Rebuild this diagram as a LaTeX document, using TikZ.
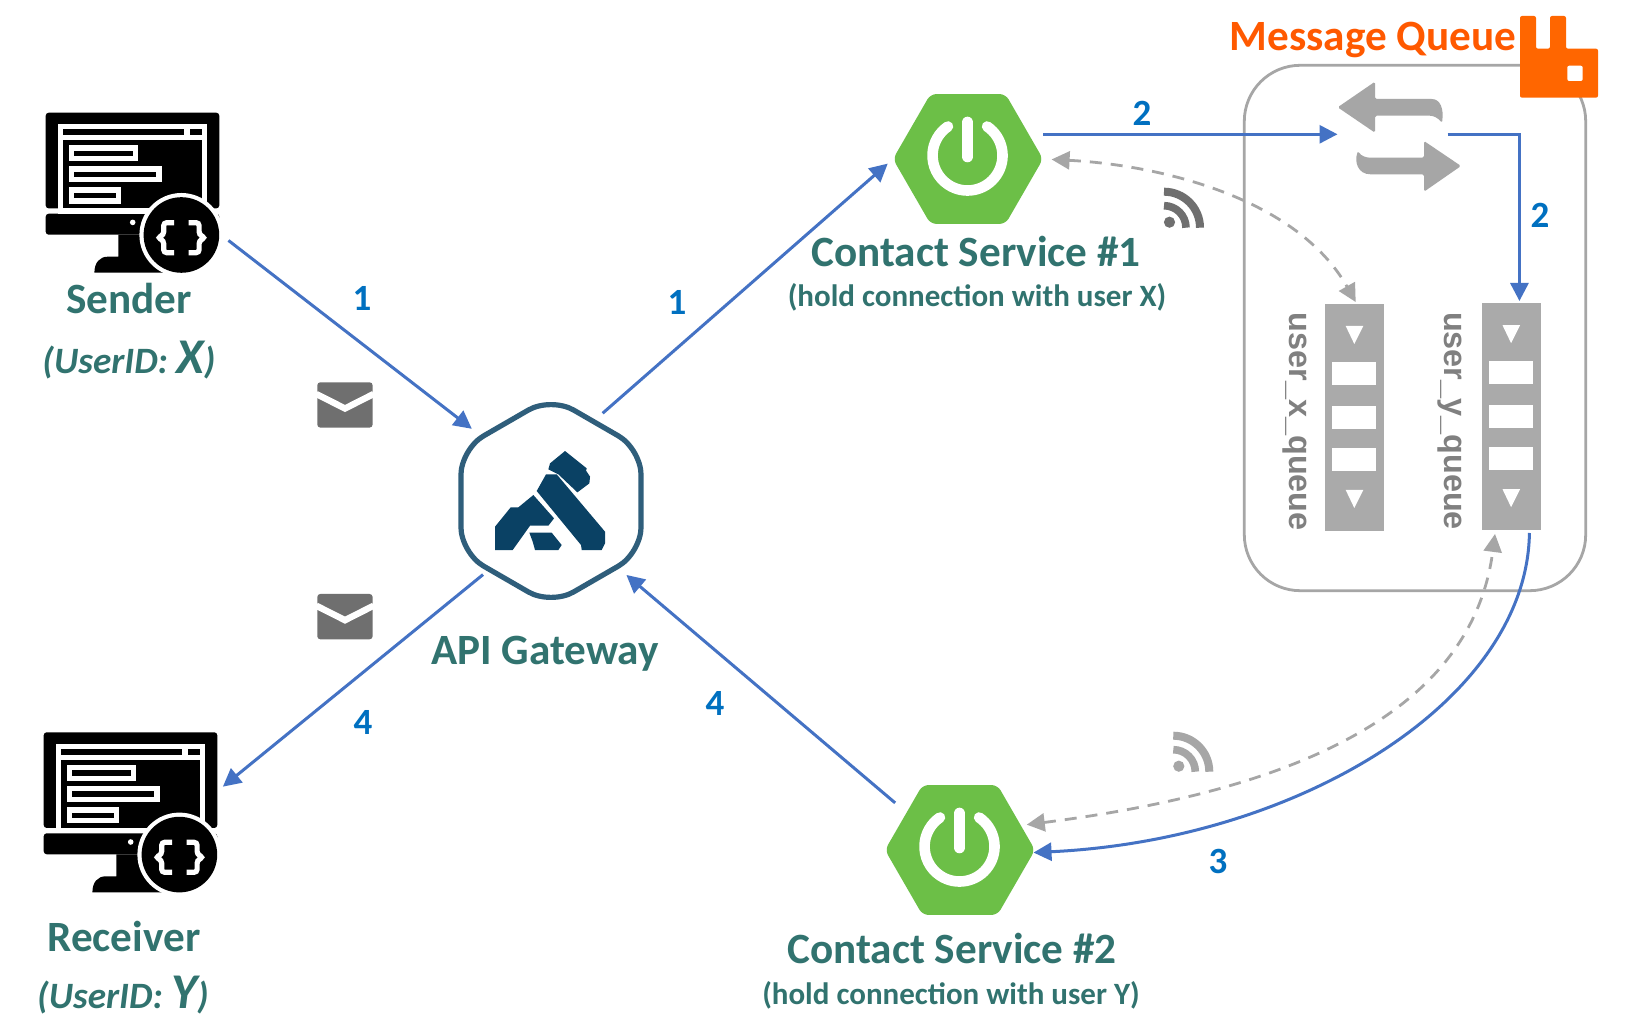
\documentclass[tikz,border=0pt]{standalone}
\usepackage{fontspec}
\usepackage{tikz}
\usepackage{xcolor}
\usetikzlibrary{arrows.meta,shapes.geometric}
\setmainfont{Carlito}
\newfontfamily\queuefont{Liberation Sans}
\definecolor{label-teal}{HTML}{31736F}
\definecolor{step-blue}{HTML}{0070C0}
\definecolor{flow-blue}{HTML}{4472C4}
\definecolor{mq-gray}{HTML}{A6A6A6}
\definecolor{icon-gray}{HTML}{6F6F6F}
\definecolor{mq-orange}{HTML}{FF6600}
\definecolor{spring-green}{HTML}{6CBF47}
\definecolor{kong-blue}{HTML}{0A4164}
\tikzset{
    name-label/.style = {anchor=base, inner sep=0pt, text=label-teal, font=\fontsize{21.6}{24}\selectfont\bfseries},
    sub-label/.style = {anchor=base, inner sep=0pt, text=label-teal, font=\fontsize{15.5}{18}\selectfont\bfseries},
    user-label/.style = {anchor=base, inner sep=0pt, text=label-teal, font=\fontsize{18.6}{22}\selectfont\bfseries\itshape},
    step-label/.style = {inner sep=0pt, text=step-blue, font=\fontsize{18.5}{20}\selectfont\bfseries},
    queue-label/.style = {anchor=base, rotate=-90, inner sep=0pt, text=black!50, font=\queuefont\fontsize{16.2}{19}\selectfont\bfseries},
    icon-box/.style = {rectangle, minimum width=86.7pt, minimum height=80pt, inner sep=0pt},
    spring-hex/.style = {regular polygon, regular polygon sides=6, fill=spring-green, rounded corners=3pt, minimum size=75pt, inner sep=0pt, outer sep=0pt},
    gateway-hex/.style = {regular polygon, regular polygon sides=6, shape border rotate=30, draw=kong-blue!85!white, line width=2.6pt, fill=white, rounded corners=13pt, minimum size=104pt, inner sep=0pt, outer sep=0pt},
    queue-box/.style = {rectangle, fill=mq-gray!95!white, minimum width=29.4pt, minimum height=113.5pt, inner sep=0pt, outer sep=0pt},
    mq-box/.style = {rectangle, draw=mq-gray, line width=1.4pt, rounded corners=28pt, minimum width=170.7pt, minimum height=262.7pt, inner sep=0pt},
    flow-arrow/.style = {draw=flow-blue, line width=1.5pt, ->, >={Triangle[width=9pt,length=9pt]}},
    poll-arrow/.style = {draw=mq-gray, line width=1.4pt, dash pattern=on 6pt off 4.5pt, <->, >={Triangle[width=9pt,length=9pt]}},
    pics/monitor/.style = {code={
        \fill[black, rounded corners=1.5pt] (0,0) rectangle (173.6,95.7);
        \fill[black, rounded corners=1.5pt] (0,101) rectangle (173.6,122);
        \fill[black] (48.7,160) .. controls (48.7,150) and (54,144) .. (62,144) -- (72.7,144) -- (72.7,122) -- (120,122) -- (120,160) -- cycle;
        \fill[white] (12,11.3) rectangle (161.7,101);
        \fill[black] (17,16.3) rectangle (138.7,22.3);
        \fill[black] (144,16.3) rectangle (156.7,22.3);
        \fill[black] (17,27.3) rectangle (156.7,95.7);
        % the three lines on the screen
        \foreach \y/\w in {32.3/92.7, 53.3/116, 74.7/75.3} {
            \fill[white] (23.3,\y) rectangle (\w,\y+16.5);
            \fill[black] (28.3,\y+5.7) rectangle (\w-5.3,\y+11);
        }
        \fill[white] (87,109.7) circle[radius=1.4pt];
        \fill[white] (135.7,122.3) circle[radius=21pt];
        \fill[black] (135.7,122.3) circle[radius=18.9pt];
        \draw[white, line width=2.6pt, rounded corners=1.5pt] (128.5,110) -- (118,110) -- (118,122) -- (112,125) -- (118,128) -- (118,140) -- (128.5,140);
        \draw[white, line width=2.6pt, rounded corners=1.5pt] (142.9,110) -- (153.4,110) -- (153.4,122) -- (159.4,125) -- (153.4,128) -- (153.4,140) -- (142.9,140);
    }},
    pics/power/.style = {code={
        \draw[white, line width=5.3pt, line cap=round] (19.6,-29) arc[start angle=56, end angle=-236, radius=17.5pt];
        \draw[white, line width=5.8pt, line cap=round] (0,-33) -- (0,1);
    }},
    pics/envelope/.style = {code={
        \fill[icon-gray, rounded corners=1.5pt] (0,0) rectangle (55.3,45.3);
        \draw[white, line width=3.2pt] (-1,11.7) -- (27.7,26.2) -- (56.3,11.7);
    }},
    pics/rss/.style = {code={
        \draw[#1, line width=4pt] (0,-36) arc[start angle=90, end angle=0, radius=18pt];
        \draw[#1, line width=3.8pt] (0,-22) arc[start angle=90, end angle=0, radius=11pt];
        \fill[#1] (5.5,-5.5) circle[radius=2.8pt];
    }},
    pics/queue-slots/.style = {code={
        \foreach \y in {-91.3,72.7} {
            \fill[white] (-9,\y) -- (8.6,\y) -- (-0.4,\y+18) -- cycle;
        }
        \foreach \y in {-55,-11,30.4} {
            \fill[white] (-22.4,\y) rectangle (21.6,\y+23);
        }
    }},
}

\begin{document}
\begin{tikzpicture}[x=0.5pt,y=-0.5pt]
\path[fill=white, use as bounding box] (0,0) rectangle (1640,1036);

% clients
\node[icon-box] (sender) at (132.5,193) {};
\pic at (45.7,112.7) {monitor};
\node[icon-box] (receiver) at (130.5,812.7) {};
\pic at (43.7,732.3) {monitor};
\node[name-label] (sender-name) at (129,314) {Sender};
\node[user-label] (sender-id) at (129,374) {(UserID: {\fontsize{25}{25}\selectfont X})};
\node[name-label] (receiver-name) at (124,951.5) {Receiver};
\node[user-label] (receiver-id) at (123,1009) {(UserID: {\fontsize{25}{25}\selectfont Y})};

% gateway
\node[gateway-hex] (gateway) at (551,501) {};
\begin{scope}[shift={(420,380)},x=0.1667pt,y=-0.1667pt]
\fill[kong-blue] (435,213) -- (500,265) -- (498,272) -- (510,290) -- (508,310) -- (472,337) -- (415,283) -- (385,268) -- (390,250) -- cycle;
\fill[kong-blue] (378,283) -- (410,283) -- (555,455) -- (555,490) -- (545,510) -- (485,510) -- (483,495) -- (350,333) -- cycle;
\fill[kong-blue] (340,345) -- (402,415) -- (385,437) -- (330,437) -- (278,510) -- (225,510) -- (225,440) -- (272,382) -- (295,382) -- cycle;
\fill[kong-blue] (328,458) -- (395,458) -- (425,495) -- (415,510) -- (345,510) -- (338,485) -- cycle;
\end{scope}
\node[name-label] (gateway-name) at (545,664.5) {API Gateway};

% services
\node[spring-hex] (service1) at (968,159) {};
\pic at (967.5,155.5) {power};
\node[name-label] (service1-name) at (976,266.5) {Contact Service \#1};
\node[sub-label] (service1-note) at (977,307) {(hold connection with user X)};
\node[spring-hex] (service2) at (960,850) {};
\pic at (959.5,846.5) {power};
\node[name-label] (service2-name) at (952,963.5) {Contact Service \#2};
\node[sub-label] (service2-note) at (951,1004.5) {(hold connection with user Y)};

% message queue
\node[mq-box] (mq) at (1415,328) {};
\node[anchor=base, inner sep=0pt, text=orange!70!red, font=\fontsize{21.6}{24}\selectfont\bfseries] (mq-title) at (1373,51) {Message Queue};
\fill[mq-orange, rounded corners=1pt] (1520,97.7) -- (1520,16) -- (1536,16) -- (1536,48.7) -- (1550,48.7) -- (1550,16) -- (1566,16) -- (1566,48.7) -- (1598,48.7) -- (1598,97.7) -- cycle;
\fill[white, rounded corners=1pt] (1567.3,65.7) rectangle (1582.7,81);
\node[minimum width=55pt, minimum height=10pt, inner sep=0pt, outer sep=0pt] (exchange) at (1392.5,134.3) {};
\fill[mq-gray, rounded corners=0.8pt] (1337.7,107.3) -- (1375,81.7) -- (1375,99) -- (1430,99) .. controls (1440,99) and (1444,108) .. (1442,123) .. controls (1438,118) and (1434,115.7) .. (1428,115.7) -- (1375,115.7) -- (1375,132.7) -- cycle;
\fill[mq-gray, rounded corners=0.8pt] (1461,166) -- (1424,141) -- (1424,157.7) -- (1372,157.7) .. controls (1366,157.7) and (1361,156) .. (1358,151) .. controls (1354,162) and (1358,174.3) .. (1372,174.3) -- (1424,174.3) -- (1424,191.7) -- cycle;
\node[queue-box] (queuex) at (1354.7,417.3) {};
\pic at (queuex.center) {queue-slots};
\node[queue-box] (queuey) at (1511.5,416.5) {};
\pic at (queuey.center) {queue-slots};
\node[queue-label] (queuex-name) at (1289.5,421.7) {user\_x\_queue};
\node[queue-label] (queuey-name) at (1444.7,421) {user\_y\_queue};

% icons along the flows
\pic at (317.3,382.3) {envelope};
\pic at (317.3,594) {envelope};
\pic at (1164,227.7) {rss=icon-gray};
\pic at (1173.3,771.7) {rss=mq-gray};

% flows
\draw[flow-arrow, shorten <=5.6pt, shorten >=6.5pt] (sender.-25.2) -- (gateway.137.3);
\draw[flow-arrow, shorten <=6.2pt, shorten >=3.5pt] (gateway.62.8) -- (service1.west);
\draw[flow-arrow] (service1.east |- exchange.west) -- (exchange.west);
\draw[flow-arrow, shorten >=1pt] (exchange.east) -| (queuey.86.6);
\draw[flow-arrow, shorten <=1.5pt] (queuey.-81.9) .. controls (1527,700) and (1300,840) .. (service2.-2.5);
\draw[flow-arrow, shorten <=7.5pt, shorten >=6.2pt] (service2.145) -- (gateway.-45.6);
\draw[flow-arrow, shorten <=4.1pt, shorten >=3.4pt] (gateway.-132.6) -- (receiver.14.6);
\draw[poll-arrow, shorten <=4.3pt, shorten >=1pt] (service1.east) .. controls (1160,165) and (1297,198) .. (queuex.89);
\draw[poll-arrow, shorten <=3pt, shorten >=2pt] (service2.22.5) .. controls (1300,790) and (1472,710) .. (queuey.-98.3);

% step numbers
\node[step-label] (step1a) at (362,298) {1};
\node[step-label] (step1b) at (677,302) {1};
\node[step-label] (step2a) at (1142,113) {2};
\node[step-label] (step2b) at (1540,215) {2};
\node[step-label] (step3) at (1218,861) {3};
\node[step-label] (step4a) at (715,703) {4};
\node[step-label] (step4b) at (363,722) {4};
\end{tikzpicture}
\end{document}
